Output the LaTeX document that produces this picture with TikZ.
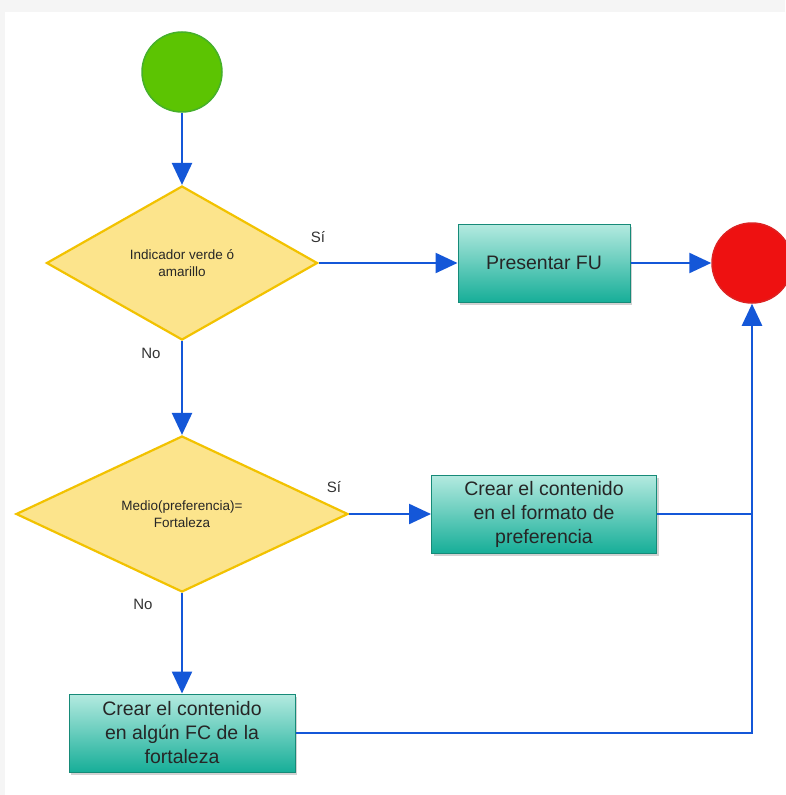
\documentclass[tikz,border=0pt]{standalone}
\usepackage{fontspec}
\setmainfont{Liberation Sans}
\usetikzlibrary{shapes.geometric,arrows.meta,shadows}
\definecolor{lineblue}{HTML}{1457D8}
\definecolor{dfill}{HTML}{FCE48C}
\definecolor{dborder}{HTML}{F2C200}
\definecolor{tealtop}{HTML}{B4EAE0}
\definecolor{tealbot}{HTML}{17AE98}
\definecolor{tealborder}{HTML}{168A78}
\definecolor{startfill}{HTML}{5CC402}
\definecolor{startborder}{HTML}{46B02A}
\definecolor{endfill}{HTML}{EE1111}
\definecolor{endborder}{HTML}{DD2222}
\tikzset{
  conn/.style={draw=lineblue, line width=2.4pt, -{Triangle[length=22pt,width=20pt]}},
  plainconn/.style={draw=lineblue, line width=2.4pt},
  decision/.style={shape=diamond, draw=dborder, line width=2.2pt, fill=dfill, inner sep=0pt, text=black!85,
     font=\fontsize{13.5}{17}\selectfont, align=center},
  process/.style={rectangle, draw=tealborder, line width=1pt, top color=tealtop, bottom color=tealbot,
     minimum width=#1, minimum height=78pt, inner sep=0pt, align=center, text=black!85,
     font=\fontsize{19.5}{24}\selectfont, drop shadow={shadow xshift=2pt, shadow yshift=-3pt, opacity=0.35}},
  terminal/.style={circle, line width=1.5pt, minimum size=80pt, inner sep=0pt},
  lbl/.style={font=\fontsize{15}{18}\selectfont, text=black!80}
}
\begin{document}
\begin{tikzpicture}[x=1pt,y=-1pt]
\useasboundingbox (0,0) rectangle (785,795);
\fill[black!4] (0,0) rectangle (785,795);
\fill[white] (5,12) rectangle (785,795);

\node[terminal, fill=startfill, draw=startborder] (start) at (182,72) {};
\node[decision, minimum width=271pt, minimum height=154pt, aspect=1.76] (d1) at (182,263) {Indicador verde ó\\amarillo};
\node[process=172pt] (p1) at (544,263) {Presentar FU};
\node[terminal, fill=endfill, draw=endborder] (end) at (752,263) {};
\node[decision, minimum width=332pt, minimum height=156pt, aspect=2.13] (d2) at (182,514) {Medio(preferencia)=\\Fortaleza};
\node[process=225pt] (p2) at (544,514) {Crear el contenido\\en el formato de\\preferencia};
\node[process=226pt] (p3) at (182,733) {Crear el contenido\\en algún FC de la\\fortaleza};

\coordinate (j1) at (752,514);
\coordinate (j2) at (752,733);

\draw[conn] (start) -- (d1.north);
\draw[conn] (d1.east) -- (p1.west);
\draw[conn] (p1.east) -- (end.west);
\draw[conn] (d1.south) -- (d2.north);
\draw[conn] (d2.east) -- (p2.west);
\draw[conn] (d2.south) -- (p3.north);
\draw[plainconn] (p2.east) -- (j1);
\draw[conn] (p3.east) -- (j2) -- (end.south);

\node[lbl] (s1) at (318,237) {Sí};
\node[lbl] (n1) at (151,353) {No};
\node[lbl] (s2) at (334,487) {Sí};
\node[lbl] (n2) at (143,604) {No};
\end{tikzpicture}
\end{document}
